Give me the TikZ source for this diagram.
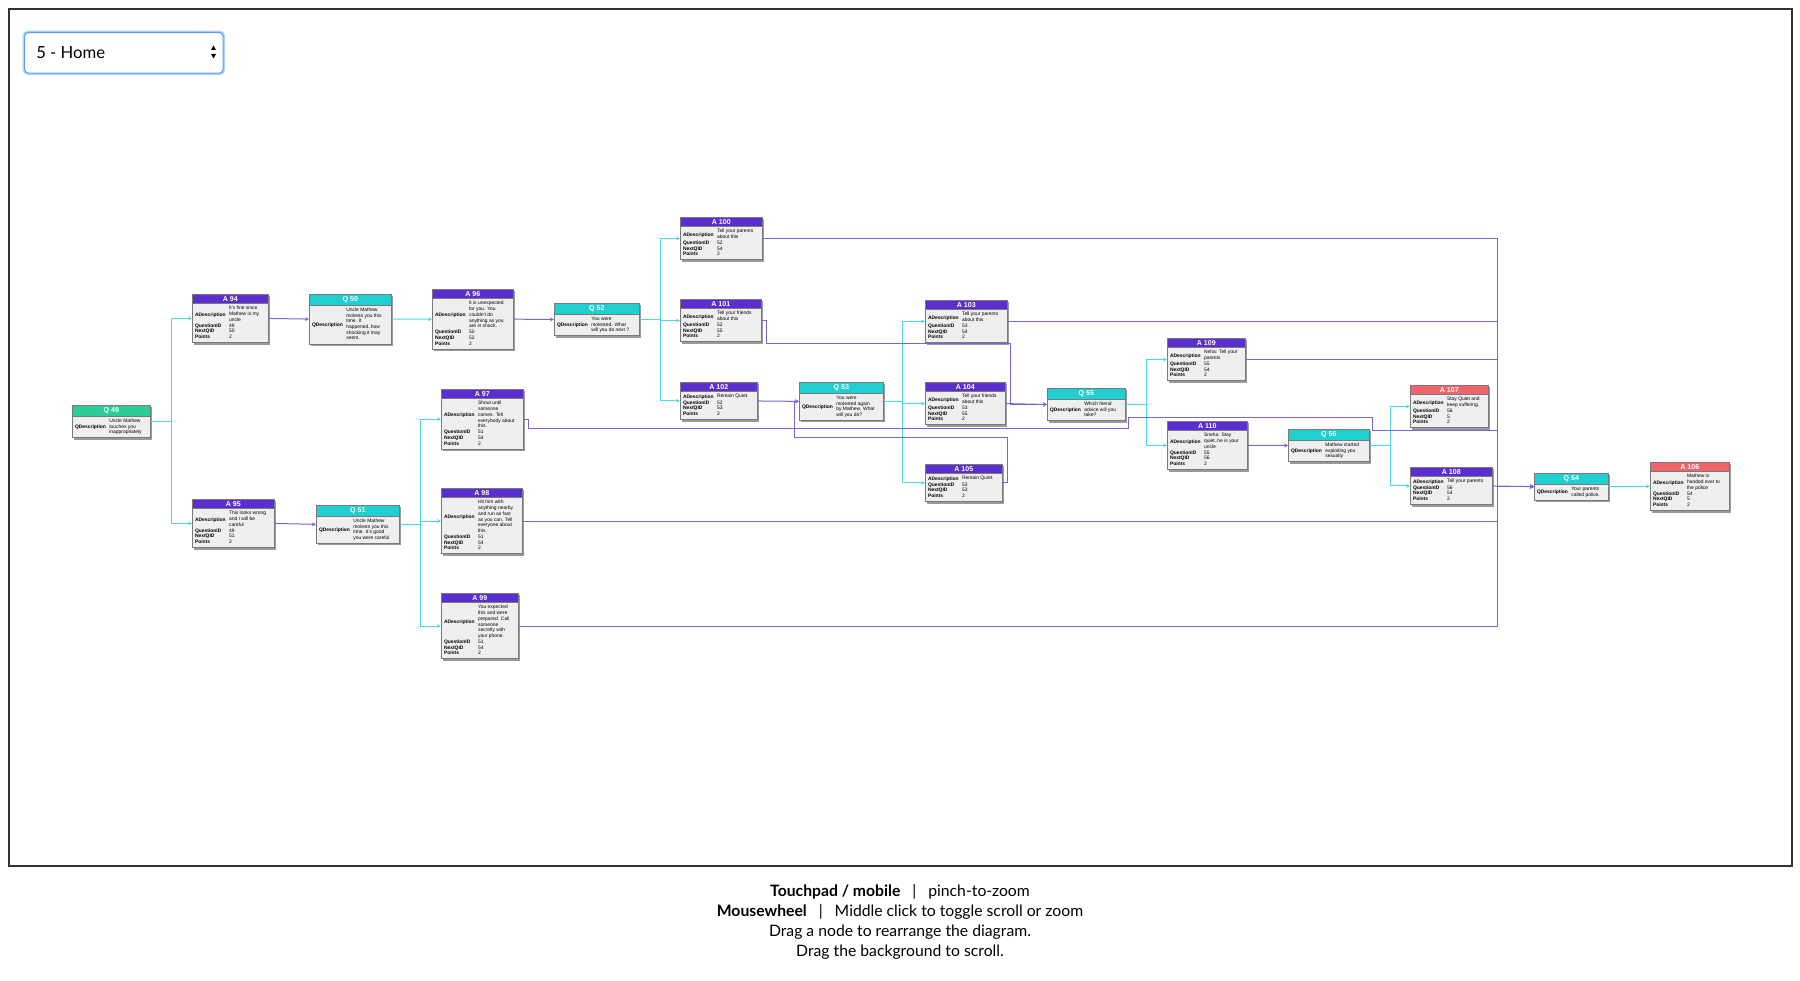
\documentclass[tikz,border=0pt]{standalone}
\usepackage{fontspec}
\setmainfont{Liberation Sans}
\newfontfamily\lato{Lato}
\usetikzlibrary{arrows.meta,shapes.multipart}

\definecolor{apurple}{HTML}{5B2FCF}
\definecolor{qteal}{HTML}{22CFD0}
\definecolor{qgreen}{HTML}{2CCB98}
\definecolor{ared}{HTML}{F0646A}
\definecolor{cardgray}{HTML}{EFEFEF}
\definecolor{cardline}{HTML}{7A7A7A}
\definecolor{cardshadow}{HTML}{9A9A9A}
\definecolor{qlinec}{HTML}{4DD8E3}
\definecolor{alinec}{HTML}{7367D4}
\definecolor{menublue}{HTML}{5D9EF2}
\definecolor{menuglow}{HTML}{B3D2F8}

\pgfdeclarelayer{shadow}
\pgfsetlayers{shadow,main}

\newcommand{\hd}[1]{\textcolor{white}{\fontsize{5.3}{6}\selectfont\bfseries #1}}
\newcommand{\arows}[4]{%
\begin{tabular}{@{}l@{\hspace{2.5pt}}l@{}}
\textbf{ADescription} & \begin{tabular}{@{}l@{}}#1\end{tabular}\\
\textbf{QuestionID} & #2\\
\textbf{NextQID} & #3\\
\textbf{Points} & #4
\end{tabular}}
\newcommand{\qrows}[1]{%
\begin{tabular}{@{}l@{\hspace{2.5pt}}l@{}}
\textbf{QDescription} & \begin{tabular}{@{}l@{}}#1\end{tabular}
\end{tabular}}

\tikzset{
  card/.style={rectangle split, rectangle split parts=2, rectangle split part align={center,left},
    draw=cardline, line width=0.5pt, inner xsep=2pt, inner ysep=1.4pt, anchor=north west,
    font=\fontsize{3.7}{4.3}\selectfont},
  acard/.style={card, rectangle split part fill={apurple,cardgray}},
  qcard/.style={card, rectangle split part fill={qteal,cardgray}},
  startcard/.style={card, rectangle split part fill={qgreen,cardgray}},
  endcard/.style={card, rectangle split part fill={ared,cardgray}},
  qline/.style={draw=qlinec, line width=0.75pt, -{Stealth[length=3pt,width=3pt]}},
  aline/.style={draw=alinec, line width=0.75pt, -{Stealth[length=3pt,width=3pt]}},
  menu/.style={anchor=north west, minimum width=149pt, minimum height=30.5pt, rounded corners=3pt,
    draw=menublue, line width=0.8pt, fill=white, preaction={draw=menuglow, line width=3pt}}
}

\begin{document}
\begin{tikzpicture}[x=0.75pt, y=-0.75pt]
\useasboundingbox (0,0) rectangle (1800,981);
\draw[black!80, line width=0.8pt] (9,9) rectangle (1792,866);

% level selector
\node[menu] (menu) at (24,32) {};
\node[anchor=west, font=\lato\fontsize{12.5}{15}\selectfont, inner sep=0pt] (menutext) at (36,52.5) {5 - Home};
\fill (211,50) -- (216,50) -- (213.5,45.5) -- cycle;
\fill (211,54) -- (216,54) -- (213.5,58.5) -- cycle;

% questions
\node[startcard, minimum width=58.5pt] (q49) at (72,405) {\hd{Q 49}\nodepart{two}\qrows{Uncle Mathew\\touches you\\inappropriately}};
\node[qcard, minimum width=61.5pt] (q50) at (309,294) {\hd{Q 50}\nodepart{two}\qrows{Uncle Mathew\\molests you this\\time. It\\happened..how\\shocking it may\\seem.}};
\node[qcard, minimum width=62.25pt] (q51) at (316,505) {\hd{Q 51}\nodepart{two}\qrows{Uncle Mathew\\molests you this\\time. It's good\\you were careful}};
\node[qcard, minimum width=63.75pt] (q52) at (554,303) {\hd{Q 52}\nodepart{two}\qrows{You were\\molested. What\\will you do next ?}};
\node[qcard, minimum width=63pt] (q53) at (799,382) {\hd{Q 53}\nodepart{two}\qrows{You were\\molested again\\by Mathew. What\\will you do?}};
\node[qcard, minimum width=58.5pt] (q55) at (1047,388) {\hd{Q 55}\nodepart{two}\qrows{Which friend\\advice will you\\take?}};
\node[qcard, minimum width=60.75pt] (q56) at (1288,429) {\hd{Q 56}\nodepart{two}\qrows{Mathew started\\exploiting you\\sexually}};
\node[qcard, minimum width=55.5pt] (q54) at (1534,473) {\hd{Q 54}\nodepart{two}\qrows{Your parents\\called police.}};

% answers
\node[acard, minimum width=57pt] (a94) at (192,294) {\hd{A 94}\nodepart{two}\arows{It's fine since\\Mathew is my\\uncle}{49}{50}{2}};
\node[acard, minimum width=61.5pt] (a95) at (192,499) {\hd{A 95}\nodepart{two}\arows{This looks wrong\\and I will be\\careful}{49}{51}{2}};
\node[acard, minimum width=60.75pt] (a96) at (432,289) {\hd{A 96}\nodepart{two}\arows{It is unexpected\\for you. You\\couldn't do\\anything as you\\are in shock.}{50}{52}{2}};
\node[acard, minimum width=61.5pt] (a97) at (441,389) {\hd{A 97}\nodepart{two}\arows{Shout until\\someone\\comes. Tell\\everybody about\\this.}{51}{54}{2}};
\node[acard, minimum width=60.75pt] (a98) at (441,488) {\hd{A 98}\nodepart{two}\arows{Hit him with\\anything nearby\\and run as fast\\as you can. Tell\\everyone about\\this}{51}{54}{2}};
\node[acard, minimum width=57.75pt] (a99) at (441,593) {\hd{A 99}\nodepart{two}\arows{You expected\\this and were\\prepared. Call\\someone\\secretly with\\your phone.}{51}{54}{2}};
\node[acard, minimum width=61.5pt] (a100) at (680,217) {\hd{A 100}\nodepart{two}\arows{Tell your parents\\about this}{52}{54}{2}};
\node[acard, minimum width=60.75pt] (a101) at (680,299) {\hd{A 101}\nodepart{two}\arows{Tell your friends\\about this}{52}{55}{2}};
\node[acard, minimum width=57.75pt] (a102) at (680,382) {\hd{A 102}\nodepart{two}\arows{Remain Quiet.}{52}{53}{2}};
\node[acard, minimum width=61.5pt] (a103) at (925,300) {\hd{A 103}\nodepart{two}\arows{Tell your parents\\about this}{53}{54}{2}};
\node[acard, minimum width=60pt] (a104) at (925,382) {\hd{A 104}\nodepart{two}\arows{Tell your friends\\about this}{53}{55}{2}};
\node[acard, minimum width=57.75pt] (a105) at (925,464) {\hd{A 105}\nodepart{two}\arows{Remain Quiet.}{53}{53}{2}};
\node[acard, minimum width=58.5pt] (a109) at (1167,338) {\hd{A 109}\nodepart{two}\arows{Neha: Tell your\\parents}{55}{54}{2}};
\node[acard, minimum width=60pt] (a110) at (1167,421) {\hd{A 110}\nodepart{two}\arows{Sneha: Stay\\quiet..he is your\\uncle}{55}{56}{2}};
\node[endcard, minimum width=58.5pt] (a107) at (1410,385) {\hd{A 107}\nodepart{two}\arows{Stay Quiet and\\keep suffering.}{56}{5}{2}};
\node[acard, minimum width=61.5pt] (a108) at (1410,467) {\hd{A 108}\nodepart{two}\arows{Tell your parents}{56}{54}{2}};
\node[endcard, minimum width=59.25pt] (a106) at (1650,462) {\hd{A 106}\nodepart{two}\arows{Mathew is\\handed over to\\the police}{54}{5}{2}};

% shadows behind the cards
\begin{pgfonlayer}{shadow}
\foreach \n in {q49,q50,q51,q52,q53,q54,q55,q56,a94,a95,a96,a97,a98,a99,a100,a101,a102,a103,a104,a105,a106,a107,a108,a109,a110}
  \fill[cardshadow] ([shift={(1.3pt,-1.3pt)}]\n.south west) rectangle ([shift={(1.3pt,-1.3pt)}]\n.north east);
\end{pgfonlayer}

% question -> answers
\draw[qline] (q49.east) -- ++(21,0) |- (a94.west);
\draw[qline] (q49.east) -- ++(21,0) |- (a95.west);
\draw[qline] (q50.east) -- (a96.west);
\draw[qline] (q51.east) -- ++(21,0) |- (a97.west);
\draw[qline] (q51.east) -- ++(21,0) |- (a98.west);
\draw[qline] (q51.east) -- ++(21,0) |- (a99.west);
\draw[qline] (q52.east) -- ++(21,0) |- (a100.west);
\draw[qline] (q52.east) -- ++(21,0) |- (a101.west);
\draw[qline] (q52.east) -- ++(21,0) |- (a102.west);
\draw[qline] (q53.east) -- ++(19,0) |- (a103.west);
\draw[qline] (q53.east) -- ++(19,0) |- (a104.west);
\draw[qline] (q53.east) -- ++(19,0) |- (a105.west);
\draw[qline] (q55.east) -- ++(21,0) |- (a109.west);
\draw[qline] (q55.east) -- ++(21,0) |- (a110.west);
\draw[qline] (q56.east) -- ++(21,0) |- (a107.west);
\draw[qline] (q56.east) -- ++(21,0) |- (a108.west);
\draw[qline] (q54.east) -- (a106.west);

% answer -> next question
\coordinate (bus) at (1497,0);
\draw[aline] (a94.east) -- (q50.west);
\draw[aline] (a95.east) -- (q51.west);
\draw[aline] (a96.east) -- (q52.west);
\draw[aline] (a102.east) -- (q53.west);
\draw[aline] (a101.east) -| (766,343) -- (1010,343) |- (q55.west);
\draw[aline] (a104.east) -- (q55.west);
\draw[aline] (a105.east) -| (1007,437) -- (794,437) |- (q53.west);
\draw[aline] (a110.east) -- (q56.west);
\draw[aline] (a100.east) -- (a100.east -| bus) |- (q54.west);
\draw[aline] (a103.east) -- (a103.east -| bus) |- (q54.west);
\draw[aline] (a109.east) -- (a109.east -| bus) |- (q54.west);
\draw[aline] (a97.east) -| (528,428) -- (1128,428) |- (1372,417) |- (1497,430) |- (q54.west);
\draw[aline] (a98.east) -- (a98.east -| bus) |- (q54.west);
\draw[aline] (a99.east) -- (a99.east -| bus) |- (q54.west);
\draw[aline] (a108.east) -- (q54.west);

% help text
\node[font=\lato\fontsize{11.8}{15}\selectfont, align=center] (help) at (900,922)
  {\textbf{Touchpad / mobile}\hspace{9pt}|\hspace{9pt}pinch-to-zoom\\
   \textbf{Mousewheel}\hspace{9pt}|\hspace{9pt}Middle click to toggle scroll or zoom\\
   Drag a node to rearrange the diagram.\\
   Drag the background to scroll.};
\end{tikzpicture}
\end{document}
